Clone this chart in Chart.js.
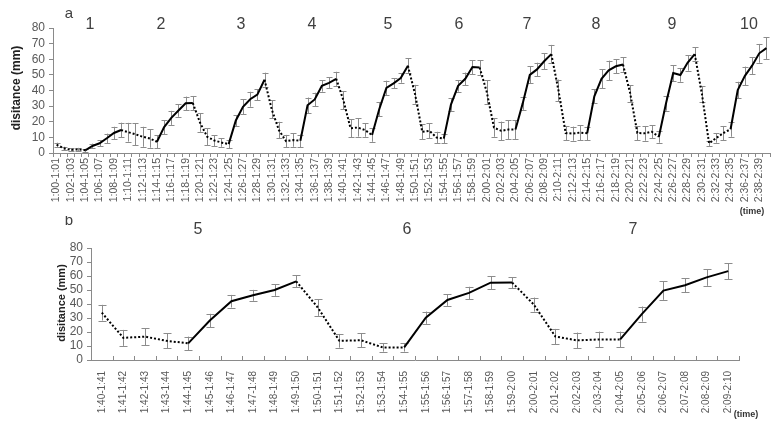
<!DOCTYPE html>
<html><head><meta charset="utf-8">
<script src="https://cdn.jsdelivr.net/npm/chart.js@4/dist/chart.umd.min.js"></script>
<style>
html,body{margin:0;padding:0;background:#fff;}
#wrap{position:relative;width:784px;height:433px;overflow:hidden;}
#ca{position:absolute;left:0;top:0;}
#cb{position:absolute;left:0;top:216px;}
</style></head>
<body><div id="wrap"><canvas id="ca" width="784" height="216"></canvas><canvas id="cb" width="784" height="217"></canvas></div>
<script>
// ---------- DATA ----------
const categoriesA = [
"1:00-1:01","1:01-1:02","1:02-1:03","1:03-1:04","1:04-1:05","1:05-1:06","1:06-1:07","1:07-1:08","1:08-1:09","1:09-1:10",
"1:10-1:11","1:11-1:12","1:12-1:13","1:13-1:14","1:14-1:15","1:15-1:16","1:16-1:17","1:17-1:18","1:18-1:19","1:19-1:20",
"1:20-1:21","1:21-1:22","1:22-1:23","1:23-1:24","1:24-1:25","1:25-1:26","1:26-1:27","1:27-1:28","1:28-1:29","1:29-1:30",
"1:30-1:31","1:31-1:32","1:32-1:33","1:33-1:34","1:34-1:35","1:35-1:36","1:36-1:37","1:37-1:38","1:38-1:39","1:39-1:40",
"1:40-1:41","1:41-1:42","1:42-1:43","1:43-1:44","1:44-1:45","1:45-1:46","1:46-1:47","1:47-1:48","1:48-1:49","1:49-1:50",
"1:50-1:51","1:51-1:52","1:52-1:53","1:53-1:54","1:54-1:55","1:55-1:56","1:56-1:57","1:57-1:58","1:58-1:59","1:59-2:00",
"2:00-2:01","2:01-2:02","2:02-2:03","2:03-2:04","2:04-2:05","2:05-2:06","2:06-2:07","2:07-2:08","2:08-2:09","2:09-2:10",
"2:10-2:11","2:11-2:12","2:12-2:13","2:13-2:14","2:14-2:15","2:15-2:16","2:16-2:17","2:17-2:18","2:18-2:19","2:19-2:20",
"2:20-2:21","2:21-2:22","2:22-2:23","2:23-2:24","2:24-2:25","2:25-2:26","2:26-2:27","2:27-2:28","2:28-2:29","2:29-2:30",
"2:30-2:31","2:31-2:32","2:32-2:33","2:33-2:34","2:34-2:35","2:35-2:36","2:36-2:37","2:37-2:38","2:38-2:39","2:39-2:40"
];
const distanceA = [
5.3,3.0,2.0,2.3,1.7,4.5,6.2,9.4,12.8,14.7,
13.3,12.0,10.4,9.3,7.2,16.6,22.5,27.2,31.8,32.0,
19.5,10.4,8.0,6.7,5.7,20.8,29.6,34.4,37.4,46.9,
28.0,14.7,7.6,8.3,7.8,30.5,34.3,43.0,44.9,47.5,
33.8,15.8,16.3,14.7,11.5,28.0,41.7,44.6,48.0,55.8,
37.6,13.5,14.2,9.9,9.2,31.0,43.0,47.5,55.0,54.7,
39.0,16.3,14.2,15.0,15.0,31.6,50.0,53.5,58.7,63.3,
40.0,12.8,12.4,13.1,12.6,36.3,47.5,52.9,55.5,56.6,
38.2,12.8,12.6,13.6,10.4,31.8,51.2,49.9,57.7,63.3,
37.9,6.2,9.6,12.8,15.2,40.3,49.4,55.9,63.8,67.1
];
const errorA = [
1.3,1.0,1.0,1.0,1.0,1.5,2.0,3.0,4.0,4.7,
6.0,7.0,6.4,5.9,4.3,4.5,4.5,4.0,4.3,4.5,
5.9,5.3,3.5,2.7,2.7,3.5,4.7,4.8,3.5,4.5,
5.9,5.3,4.0,4.3,4.0,5.0,4.3,3.7,3.5,4.5,
5.9,5.8,5.8,4.3,4.3,4.5,4.6,3.2,3.0,4.8,
6.0,4.8,4.8,3.7,3.0,4.0,3.7,4.0,4.5,4.8,
7.5,5.9,5.9,6.0,6.0,4.0,5.5,4.3,5.0,5.9,
7.0,4.5,4.5,4.8,4.3,4.5,6.0,6.2,4.5,4.6,
5.3,4.5,4.7,4.3,3.8,4.7,5.1,4.3,5.0,4.3,
5.0,1.7,3.0,4.5,4.8,5.3,5.9,5.3,6.0,6.9
];
const categoriesB = categoriesA.slice(40, 70);
const distanceB = [33.8,15.8,16.7,13.7,11.9,28.2,42.0,46.2,50.0,56.2,37.5,13.7,14.1,9.0,9.0,30.2,42.9,47.9,55.2,55.3,39.6,16.8,14.0,14.7,14.7,32.8,49.6,53.4,59.0,63.5];
const errorB = [5.6,5.7,6.0,5.4,4.8,4.8,4.5,3.9,4.2,4.2,6.0,4.9,5.0,3.0,3.0,4.4,4.2,4.4,4.5,3.9,5.0,5.4,5.6,5.6,5.6,5.4,6.6,5.1,6.0,5.7];
const cycleLabelsA = ["1","2","3","4","5","6","7","8","9","10"];
const cycleLabelsB = ["5","6","7"];
const yMin = 0, yMax = 80, yStep = 10;

// ---------- STYLE / HELPERS ----------
const AXIS = '#8a8a8a', TXT = '#595959';
function isSolid(idx){ const m = idx % 10; return m >= 4 && m <= 8; }

const errorBars = {
  id: 'errorBars',
  beforeDatasetsDraw(chart, args, o) {
    const ctx = chart.ctx, xs = chart.scales.x, ys = chart.scales.y;
    const vals = chart.data.datasets[0].data;
    ctx.save();
    ctx.strokeStyle = '#8c8c8c'; ctx.lineWidth = 1;
    vals.forEach((v, i) => {
      const e = o.errors[i];
      const x = Math.round(xs.getPixelForValue(i)) + 0.5;
      const t = ys.getPixelForValue(v + e), b = ys.getPixelForValue(v - e);
      ctx.beginPath();
      ctx.moveTo(x, t); ctx.lineTo(x, b);
      ctx.moveTo(x - o.cap, Math.round(t)+0.5); ctx.lineTo(x + o.cap, Math.round(t)+0.5);
      ctx.moveTo(x - o.cap, Math.round(b)+0.5); ctx.lineTo(x + o.cap, Math.round(b)+0.5);
      ctx.stroke();
    });
    ctx.restore();
  }
};
const innerTicks = {
  id: 'innerTicks',
  afterDraw(chart, args, o) {
    if (!o.on) return;
    const ctx = chart.ctx, xs = chart.scales.x, yb = chart.chartArea.bottom;
    ctx.save(); ctx.strokeStyle = AXIS; ctx.lineWidth = 1;
    ctx.beginPath();
    for (let i = 0; i <= chart.data.labels.length; i++) {
      const x = Math.round(xs.getPixelForValue(i - 0.5)) + 0.5;
      ctx.moveTo(x, yb); ctx.lineTo(x, yb - 4);
    }
    ctx.stroke(); ctx.restore();
  }
};
const texts = {
  id: 'texts',
  afterDraw(chart, args, o) {
    const ctx = chart.ctx;
    (o.items || []).forEach(t => {
      ctx.save();
      ctx.font = t.font; ctx.fillStyle = t.color || '#404040';
      ctx.textAlign = 'center'; ctx.textBaseline = 'middle';
      ctx.translate(t.x, t.y);
      if (t.rot) ctx.rotate(t.rot);
      ctx.fillText(t.text, 0, 0);
      ctx.restore();
    });
  }
};

function makeChart(el, labels, data, errs, cfg) {
  return new Chart(el, {
    type: 'line',
    data: { labels, datasets: [{
      data, borderColor: '#000', borderWidth: 2, pointRadius: 0, tension: 0,
      borderCapStyle: 'butt',
      segment: { borderDash: c => isSolid(c.p0DataIndex + cfg.offsetIdx) ? [] : [2, 2] }
    }]},
    options: {
      responsive: false, animation: false,
      layout: { padding: cfg.padding },
      plugins: { legend: { display: false }, tooltip: { enabled: false },
        errorBars: { errors: errs, cap: cfg.cap },
        innerTicks: { on: cfg.innerTicks },
        texts: { items: cfg.texts } },
      scales: {
        x: {
          type: 'category', offset: true,
          grid: { display: !cfg.innerTicks, offset: true, drawOnChartArea: false, drawTicks: true, tickLength: 4, color: AXIS },
          border: { display: true, color: AXIS, width: 1 },
          ticks: { autoSkip: false, minRotation: 90, maxRotation: 90, padding: cfg.xPad, color: TXT,
            font: { family: 'Liberation Sans', size: cfg.xFont },
            callback: function(v, i) { return (i % cfg.every === 0) ? this.getLabelForValue(v) : ''; } },
          afterFit: s => { s.height = cfg.xHeight; }
        },
        y: {
          min: yMin, max: yMax,
          grid: { drawOnChartArea: false, drawTicks: true, tickLength: 4, color: AXIS },
          border: { display: true, color: AXIS, width: 1 },
          ticks: { stepSize: yStep, autoSkip: false, padding: 4, color: TXT, font: { family: 'Liberation Sans', size: 12 } },
          afterFit: s => { s.width = cfg.yWidth; }
        }
      }
    },
    plugins: [errorBars, innerTicks, texts]
  });
}

const xPosA = [90,161,241,312,388,459,527,596,672,749];
const textsA = [
  { text: 'a', x: 69, y: 14, font: '15px "Liberation Sans"' },
  { text: 'disitance (mm)', x: 17, y: 88, rot: -Math.PI/2, font: 'bold 12px "Liberation Sans"', color: '#222' },
  { text: '(time)', x: 752, y: 212, font: 'bold 9px "Liberation Sans"', color: '#333' }
].concat(cycleLabelsA.map((t, i) => ({ text: t, x: xPosA[i], y: 25, font: '16px "Liberation Sans"' })));

const xPosB = [198, 407, 633];
const textsB = [
  { text: 'b', x: 69, y: 5, font: '15px "Liberation Sans"' },
  { text: 'disitance (mm)', x: 62, y: 87, rot: -Math.PI/2, font: 'bold 11px "Liberation Sans"', color: '#222' },
  { text: '(time)', x: 746, y: 199, font: 'bold 9px "Liberation Sans"', color: '#333' }
].concat(cycleLabelsB.map((t, i) => ({ text: t, x: xPosB[i], y: 14, font: '16px "Liberation Sans"' })));

makeChart(document.getElementById('ca'), categoriesA, distanceA, errorA, {
  offsetIdx: 0, padding: { left: 0, right: 14, top: 28, bottom: 0 },
  cap: 3, innerTicks: false, xPad: 1, xFont: 10.5, every: 2, xHeight: 63, yWidth: 53, texts: textsA
});
makeChart(document.getElementById('cb'), categoriesB, distanceB, errorB, {
  offsetIdx: 40, padding: { left: 0, right: 45, top: 32, bottom: 0 },
  cap: 4, innerTicks: true, xPad: 7, xFont: 10, every: 1, xHeight: 73, yWidth: 91, texts: textsB
});
</script></body></html>
